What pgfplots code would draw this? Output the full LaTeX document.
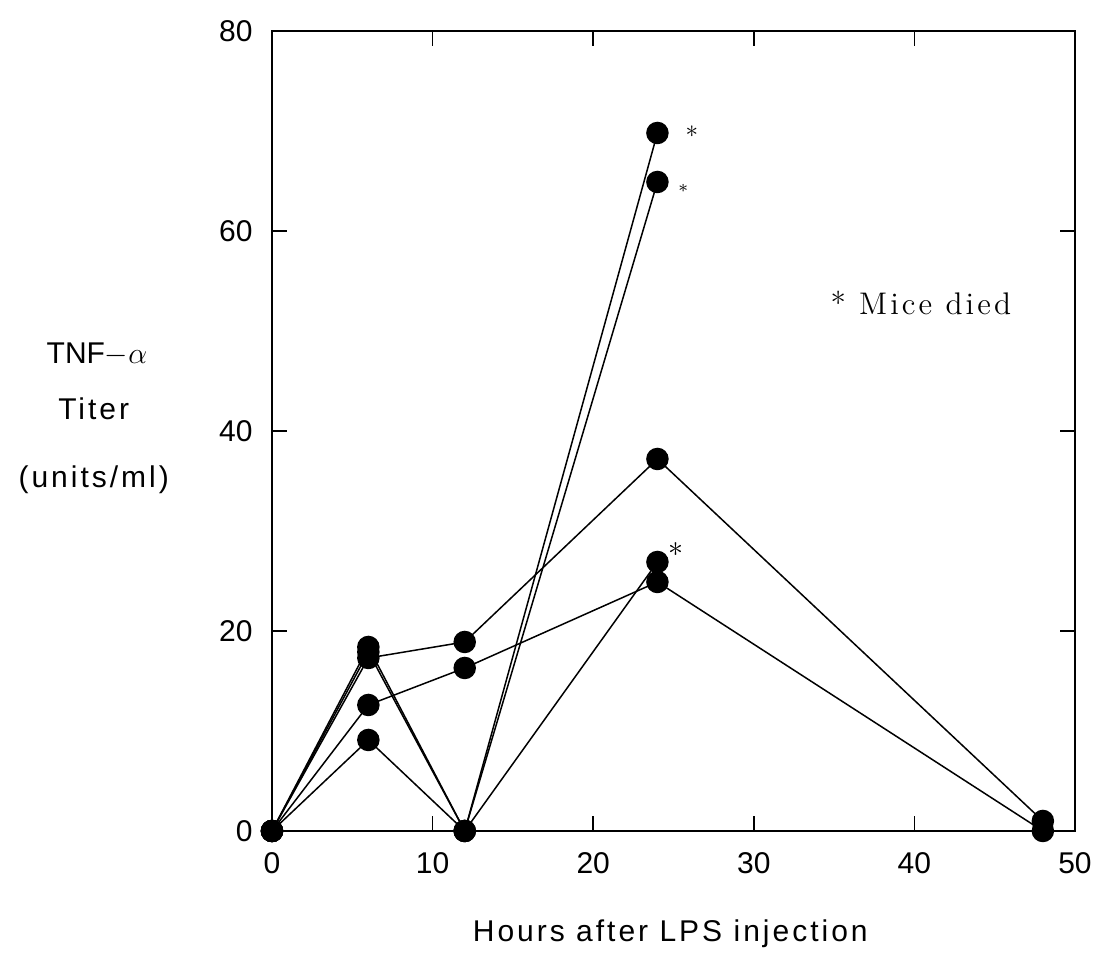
\documentclass[border=0pt]{standalone}
\usepackage{fontspec}
\usepackage{pgfplots}
\pgfplotsset{compat=1.18}
\setsansfont{Liberation Sans}
\newfontfamily\lblfont{Liberation Sans}[LetterSpace=10]
\newfontfamily\notefont{Latin Modern Roman}[LetterSpace=10]
\pgfplotsset{dotline/.style={black, line width=0.6pt, mark=*, mark size=4.2pt,
     mark options={fill=black, draw=black, line width=0.6pt, solid}}}
\begin{document}
\begin{tikzpicture}
\begin{axis}[
  scale only axis, width=321.2pt, height=320pt,
  xmin=0, xmax=50, ymin=0, ymax=80,
  xtick={0,10,...,50}, ytick={0,20,...,80},
  tick align=inside, major tick length=6pt,
  axis line style={line width=0.6pt},
  tick style={line width=0.6pt, black},
  clip=false,
  /pgf/number format/assume math mode=true,
  ticklabel style={font=\sffamily\fontsize{12}{14}\selectfont},
  xticklabel style={inner sep=0pt, yshift=-8.4pt},
  yticklabel style={inner sep=0pt, xshift=-7.6pt},
]
% died
\addplot[dotline] coordinates {(0,0) (6,18.4) (12,0) (24,69.8)};
\addplot[dotline] coordinates {(0,0) (6,17.9) (12,0) (24,64.9)};
\addplot[dotline] coordinates {(0,0) (6,9.1) (12,0) (24,26.9)};
% survived
\addplot[dotline] coordinates {(0,0) (6,17.3) (12,18.9) (24,37.2) (48,1.0)};
\addplot[dotline] coordinates {(0,0) (6,12.6) (12,16.3) (24,24.9) (48,0)};

\node[inner sep=0pt, font=\fontsize{10}{11}\selectfont] at (axis cs:26.15,69.9) {$\ast$};
\node[inner sep=0pt, font=\fontsize{7.5}{8}\selectfont] at (axis cs:25.6,64.3) {$\ast$};
\node[inner sep=0pt, font=\fontsize{12}{14}\selectfont] at (axis cs:25.15,28.1) {$\ast$};
\node[anchor=west, inner sep=0pt, font=\notefont\fontsize{12.5}{14}\selectfont] at (axis cs:34.75,52.85) {* Mice died};

\node[font=\sffamily\fontsize{12}{14}\selectfont] at (axis cs:-10.9,47.7) {TNF$-\alpha$};
\node[font=\lblfont\fontsize{12}{14}\selectfont] at (axis cs:-11.1,42.2) {Titer};
\node[font=\lblfont\fontsize{12}{14}\selectfont] at (axis cs:-11.1,35.1) {(units/ml)};
\node[font=\lblfont\fontsize{12}{14}\selectfont] at (axis cs:24.8,-10.3) {Hours after LPS injection};

\coordinate (ll) at (rel axis cs:0,0);
\coordinate (ur) at (rel axis cs:1,1);
\end{axis}
\pgfresetboundingbox
\path ([shift={(-108.8pt,-59.2pt)}]ll) rectangle ([shift={(9.2pt,12.4pt)}]ur);
\end{tikzpicture}
\end{document}
